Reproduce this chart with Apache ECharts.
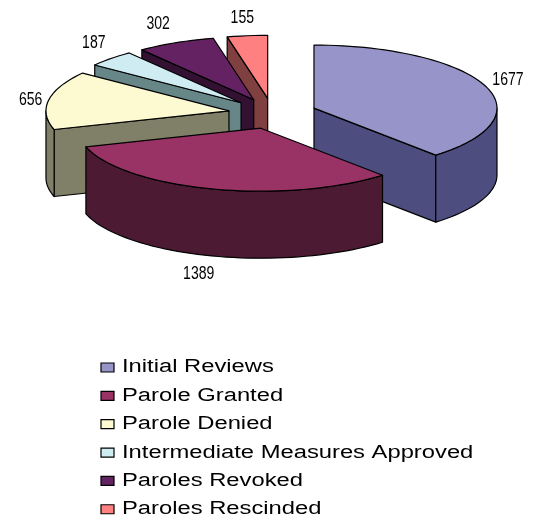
<!DOCTYPE html>
<html><head><meta charset="utf-8">
<style>html,body{margin:0;padding:0;background:#fff}#c{width:538px;height:520px}</style>
<script src="https://cdn.jsdelivr.net/npm/echarts@6/dist/echarts.min.js"></script>
</head><body><div id="c"></div>
<script>
const categories = ['Initial Reviews','Parole Granted','Parole Denied','Intermediate Measures Approved','Paroles Revoked','Paroles Rescinded'];
const values = [1677,1389,656,187,302,155];
const topColors = ['#9694C8','#993366','#FDF9D0','#CFECF3','#642262','#FF8080'];
const sideColors = ['#4D4D80','#4D1A33','#808068','#668688','#331133','#804040'];
const paintOrder = [5,6,4,3,2,1]; // z of each slice: back slices first
const labelNudge = [[23,-5.5],[-13,85.5],[-18,0],[-17,-15.5],[-17.5,-18.5],[-5,-17.5]];

const CX=272.6, CY=113.5, RX=183, RY=63, DEPTH=67, EXPLODE=0.242;
const total = values.reduce(function(a,b){return a+b;},0);
function px(a){return Math.sin(a);} function py(a){return -Math.cos(a);}
let acc=0;
const spans = values.map(function(v){const s=acc/total*2*Math.PI; acc+=v; return [s,acc/total*2*Math.PI];});

function arc(t,a,b,dy){
  const n=Math.max(2,Math.ceil((b-a)/0.04)), out=[];
  for(let i=0;i<=n;i++){const u=a+(b-a)*i/n; out.push([t[0]+RX*px(u),t[1]+RY*py(u)+dy]);}
  return out;
}
function poly(points,fill){
  return {type:'polygon',shape:{points:points},style:{fill:fill,stroke:'#000',lineWidth:1.2,lineJoin:'round'}};
}
function makeRender(i){
  return function(params,api){
    const v=api.value(0);
    const a=spans[i][0], b=a+v/total*2*Math.PI, m=(a+b)/2;
    const t=[CX+EXPLODE*RX*px(m),CY+EXPLODE*RY*py(m)];
    const kids=[], top=topColors[i], side=sideColors[i];
    function radial(u){
      const o=[t[0]+RX*px(u),t[1]+RY*py(u)];
      kids.push(poly([t,o,[o[0],o[1]+DEPTH],[t[0],t[1]+DEPTH]],side));
    }
    if(Math.sin(a)<-1e-6) radial(a);
    if(Math.sin(b)>1e-6) radial(b);
    const lo=Math.max(a,Math.PI/2), hi=Math.min(b,1.5*Math.PI);
    if(hi>lo){
      kids.push(poly(arc(t,lo,hi,0).concat(arc(t,lo,hi,DEPTH).reverse()),side));
    }
    kids.push(poly([t].concat(arc(t,a,b,0)),top));
    kids.push({type:'text',x:t[0]+RX*px(m)+labelNudge[i][0],y:t[1]+RY*py(m)+labelNudge[i][1],scaleX:0.78,
      style:{text:String(v),fontFamily:'Liberation Sans',fontSize:18,fill:'#000',align:'center',verticalAlign:'middle'}});
    return {type:'group',children:kids};
  };
}
const legendEls=[];
categories.forEach(function(name,i){
  const y=367.5+28.35*i;
  legendEls.push({type:'rect',shape:{x:101,y:y-4.5,width:13,height:9},style:{fill:topColors[i],stroke:'#000',lineWidth:1.2}});
  legendEls.push({type:'text',x:122,y:y,scaleX:1.32,style:{text:name,fontFamily:'Liberation Sans',fontSize:18,fill:'#000',align:'left',verticalAlign:'middle'}});
});
const chart=echarts.init(document.getElementById('c'),null,{renderer:'canvas'});
chart.setOption({
  animation:false,
  backgroundColor:'#fff',
  graphic:{elements:legendEls},
  series:categories.map(function(name,i){
    return {type:'custom',name:name,coordinateSystem:'none',z:paintOrder[i],silent:true,
      itemStyle:{color:topColors[i]},data:[[values[i]]],renderItem:makeRender(i),clip:false};
  })
});
</script></body></html>
